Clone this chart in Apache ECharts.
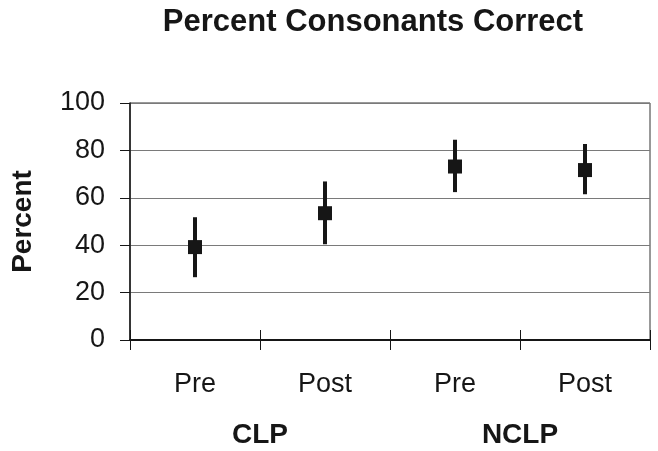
<!DOCTYPE html>
<html>
<head>
<meta charset="utf-8">
<script src="https://cdn.jsdelivr.net/npm/echarts@6/dist/echarts.min.js"></script>
<style>html,body{margin:0;padding:0;background:#fff;}#c{width:658px;height:451px;}</style>
</head>
<body>
<div id="c"></div>
<script>
var categories = ['Pre', 'Post', 'Pre', 'Post'];
var groups = ['CLP', 'NCLP'];
var means = [39.2, 53.5, 73.2, 71.7];
var upper = [51.8, 66.9, 84.5, 82.7];
var lower = [26.5, 40.4, 62.4, 61.5];
var yMin = 0, yMax = 100, yStep = 20;

var FONT = 'Liberation Sans, Arial, sans-serif';
var INK = '#161616';

var chart = echarts.init(document.getElementById('c'), null, {renderer: 'canvas'});
var errData = categories.map(function (c, i) { return [i, lower[i], upper[i]]; });
var ptData = categories.map(function (c, i) { return [i, means[i]]; });

chart.setOption({
  animation: false,
  backgroundColor: '#fff',
  title: {
    text: 'Percent Consonants Correct',
    left: 373, top: 7, padding: 0,
    textAlign: 'center',
    textStyle: {fontFamily: FONT, fontSize: 31, fontWeight: 'bold', color: INK}
  },
  grid: {left: 130, right: 8, top: 103, bottom: 111, show: true, borderColor: '#333', borderWidth: 1, backgroundColor: 'transparent'},
  xAxis: [
    {
      type: 'category', data: categories, position: 'bottom',
      boundaryGap: true,
      axisLine: {show: true, lineStyle: {color: INK, width: 2}},
      axisTick: {show: true, inside: false, length: 10, lineStyle: {color: INK, width: 1}},
      axisLabel: {margin: 31, fontFamily: FONT, fontSize: 27, color: INK},
      splitLine: {show: false}
    },
    {
      type: 'category', data: categories, position: 'bottom', offset: 0,
      boundaryGap: true,
      axisLine: {show: false},
      axisTick: {show: true, inside: true, length: 10, lineStyle: {color: INK, width: 1}},
      axisLabel: {show: false},
      splitLine: {show: false}
    },
    {
      type: 'category', data: groups, position: 'bottom', offset: 0,
      boundaryGap: true,
      axisLine: {show: false},
      axisTick: {show: false},
      axisLabel: {margin: 81, fontFamily: FONT, fontSize: 28, fontWeight: 'bold', color: INK},
      splitLine: {show: false}
    }
  ],
  yAxis: {
    type: 'value', min: yMin, max: yMax, interval: yStep,
    name: 'Percent', nameLocation: 'middle', nameGap: 93, nameRotate: 90,
    nameTextStyle: {fontFamily: FONT, fontSize: 28, fontWeight: 'bold', color: INK},
    axisLine: {show: true, lineStyle: {color: INK, width: 1.5}},
    axisTick: {show: true, inside: false, length: 10, lineStyle: {color: INK, width: 1}},
    axisLabel: {margin: 25, fontFamily: FONT, fontSize: 27, color: INK},
    splitLine: {show: true, lineStyle: {color: '#7a7a7a', width: 1}}
  },
  series: [
    {
      type: 'custom', xAxisIndex: 0, data: errData, z: 3,
      renderItem: function (params, api) {
        var x = api.value(0);
        var lo = api.coord([x, api.value(1)]);
        var hi = api.coord([x, api.value(2)]);
        return {
          type: 'line',
          shape: {x1: lo[0], y1: lo[1], x2: hi[0], y2: hi[1]},
          style: {stroke: INK, lineWidth: 4}
        };
      }
    },
    {
      type: 'scatter', xAxisIndex: 0, data: ptData, z: 4,
      symbol: 'rect', symbolSize: 14,
      itemStyle: {color: INK, opacity: 1}
    }
  ]
});
</script>
</body>
</html>
